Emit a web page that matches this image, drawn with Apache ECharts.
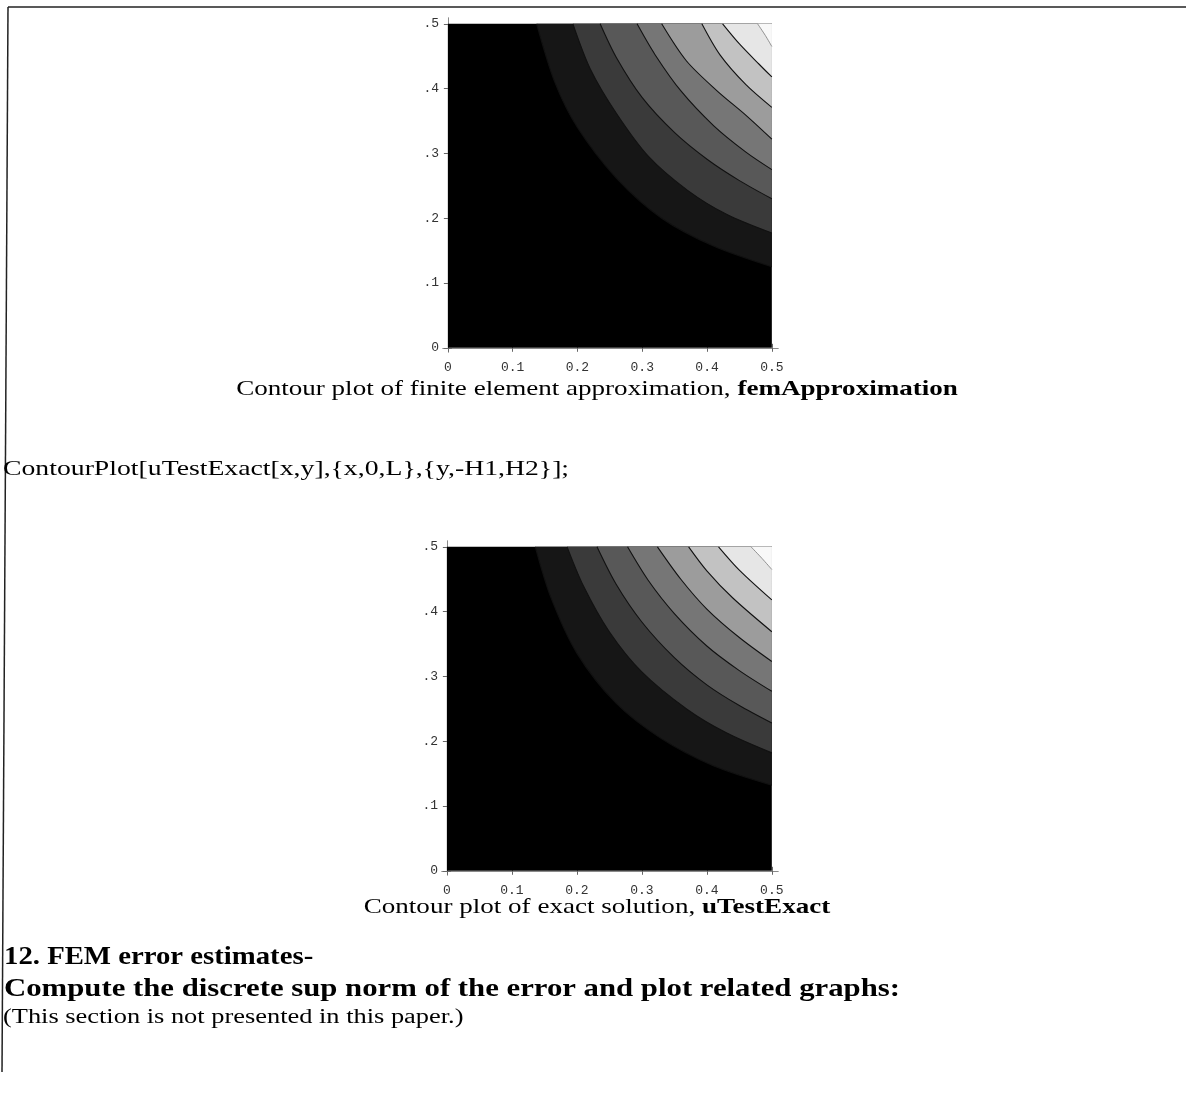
<!DOCTYPE html>
<html>
<head>
<meta charset="utf-8">
<script src="https://cdn.jsdelivr.net/npm/echarts@6/dist/echarts.min.js"></script>
<style>
html, body { margin: 0; padding: 0; background: #fff; }
#chart { width: 1186px; height: 1101px; }
</style>
</head>
<body>
<div id="chart"></div>
<script>
const xTicks = [0, 0.1, 0.2, 0.3, 0.4, 0.5];
const yTicks = [0, 0.1, 0.2, 0.3, 0.4, 0.5];
const domain = [0, 0.5];
// Mathematica pads the plot range a little past the domain
const xRange = [-0.0075, 0.5095];
const yRange = [-0.0065, 0.509];

// grey shade of the region above each contour, darkest first
const shades = ['#161616', '#3a3a3a', '#585858', '#767676', '#9c9c9c', '#c2c2c2', '#e6e6e6', '#f8f8f8'];

// contour lines, each from the top edge to the right edge
const femContours = [
  [[0.137, 0.5], [0.165, 0.41], [0.2, 0.34], [0.26, 0.262], [0.33, 0.2], [0.41, 0.157], [0.5, 0.125]],
  [[0.193, 0.5], [0.22, 0.43], [0.26, 0.362], [0.31, 0.295], [0.37, 0.243], [0.43, 0.206], [0.5, 0.177]],
  [[0.235, 0.5], [0.26, 0.448], [0.3, 0.386], [0.35, 0.332], [0.4, 0.291], [0.45, 0.258], [0.5, 0.23]],
  [[0.292, 0.5], [0.32, 0.452], [0.36, 0.396], [0.41, 0.343], [0.46, 0.302], [0.5, 0.275]],
  [[0.33, 0.5], [0.368, 0.443], [0.415, 0.397], [0.461, 0.358], [0.5, 0.322]],
  [[0.392, 0.5], [0.42, 0.452], [0.46, 0.406], [0.5, 0.371]],
  [[0.424, 0.5], [0.45, 0.469], [0.48, 0.438], [0.5, 0.418]],
  [[0.478, 0.5], [0.49, 0.482], [0.5, 0.465]]
];

const exactContours = [
  [[0.136, 0.5], [0.16, 0.422], [0.2, 0.336], [0.26, 0.259], [0.33, 0.204], [0.41, 0.162], [0.5, 0.132]],
  [[0.185, 0.5], [0.21, 0.44], [0.25, 0.369], [0.3, 0.307], [0.37, 0.249], [0.43, 0.213], [0.5, 0.182]],
  [[0.231, 0.5], [0.26, 0.443], [0.3, 0.384], [0.35, 0.329], [0.4, 0.287], [0.45, 0.255], [0.5, 0.228]],
  [[0.278, 0.5], [0.31, 0.448], [0.35, 0.397], [0.4, 0.347], [0.45, 0.309], [0.5, 0.277]],
  [[0.324, 0.5], [0.36, 0.45], [0.4, 0.404], [0.45, 0.36], [0.5, 0.323]],
  [[0.372, 0.5], [0.4, 0.463], [0.44, 0.421], [0.5, 0.369]],
  [[0.418, 0.5], [0.45, 0.464], [0.5, 0.418]],
  [[0.468, 0.5], [0.485, 0.482], [0.5, 0.465]]
];

const serif = '"Liberation Serif", "Times New Roman", serif';
const mono = '"Liberation Mono", "Courier New", monospace';

function contourSeries(contours, xi, yi) {
  const list = [{
    type: 'line', xAxisIndex: xi, yAxisIndex: yi, silent: true,
    data: [[domain[0], domain[0]], [domain[1], domain[0]]],
    symbol: 'none', lineStyle: { opacity: 0 },
    areaStyle: { color: '#000', opacity: 1, origin: domain[1] }
  }];
  contours.forEach((pts, i) => {
    const last = i === contours.length - 1;
    list.push({
      type: 'line', xAxisIndex: xi, yAxisIndex: yi, silent: true,
      data: pts, symbol: 'none', smooth: 0.3,
      lineStyle: { color: last ? '#777' : '#111', width: last ? 0.8 : 1.1 },
      areaStyle: { color: shades[i], opacity: 1, origin: domain[1] }
    });
  });
  return list;
}

function xAxes(gi) {
  const base = {
    type: 'value', gridIndex: gi, min: xRange[0], max: xRange[1],
    splitLine: { show: false },
    axisLine: { show: true, lineStyle: { color: '#8a8a8a', width: 1 } },
    axisTick: { show: true, inside: true, length: 4, customValues: xTicks, lineStyle: { color: '#666' } }
  };
  return [
    Object.assign({}, base, {
      position: 'bottom',
      axisLabel: {
        customValues: xTicks, margin: 9, color: '#333', fontFamily: mono, fontSize: 13,
        formatter: v => v === 0 ? '0' : v.toFixed(1)
      }
    }),
    Object.assign({}, base, { position: 'top', axisLabel: { show: false } })
  ];
}

function yAxes(gi) {
  const base = {
    type: 'value', gridIndex: gi, min: yRange[0], max: yRange[1],
    splitLine: { show: false },
    axisLine: { show: true, lineStyle: { color: '#8a8a8a', width: 1 } },
    axisTick: { show: true, inside: true, length: 4, customValues: yTicks, lineStyle: { color: '#666' } }
  };
  return [
    Object.assign({}, base, {
      position: 'left',
      axisLabel: {
        customValues: yTicks, margin: 4, color: '#333', fontFamily: mono, fontSize: 13,
        formatter: v => v === 0 ? '0' : '.' + Math.round(v * 10)
      }
    }),
    Object.assign({}, base, { position: 'right', axisLabel: { show: false } })
  ];
}

// the scanned page is stretched sideways, so text gets a horizontal scale
function pageText(x, y, text, font, sx, align) {
  return {
    type: 'text', x: x, y: y, scaleX: sx,
    style: { text: text, font: font, fill: '#000', align: align || 'left', verticalAlign: 'middle' }
  };
}

function caption(x, y, plain, bold, sx) {
  return {
    type: 'text', x: x, y: y, scaleX: sx,
    style: {
      text: '{n|' + plain + '}{b|' + bold + '}',
      align: 'center', verticalAlign: 'middle',
      rich: {
        n: { font: '22px ' + serif, fill: '#000' },
        b: { font: 'bold 22px ' + serif, fill: '#000' }
      }
    }
  };
}

const chart = echarts.init(document.getElementById('chart'), null, { renderer: 'canvas' });

chart.setOption({
  animation: false,
  backgroundColor: '#fff',
  grid: [
    { left: 443, top: 18, width: 335, height: 334 },
    { left: 442, top: 541, width: 336, height: 334 }
  ],
  xAxis: [...xAxes(0), ...xAxes(1)],
  yAxis: [...yAxes(0), ...yAxes(1)],
  series: [...contourSeries(femContours, 0, 0), ...contourSeries(exactContours, 2, 2)],
  graphic: [
    { type: 'polyline', shape: { points: [[8, 7], [1186, 7]] }, style: { stroke: '#222', lineWidth: 1.5 } },
    { type: 'polyline', shape: { points: [[8, 7], [2, 1072]] }, style: { stroke: '#222', lineWidth: 1.5 } },
    caption(597, 389, 'Contour plot of finite element approximation, ', 'femApproximation', 1.23),
    pageText(3, 469, 'ContourPlot[uTestExact[x,y],{x,0,L},{y,-H1,H2}];', '22px ' + serif, 1.26),
    caption(597, 907, 'Contour plot of exact solution, ', 'uTestExact', 1.23),
    pageText(4, 958, '12. FEM error estimates-', 'bold 25px ' + serif, 1.15),
    pageText(4, 990, 'Compute the discrete sup norm of the error and plot related graphs:', 'bold 25px ' + serif, 1.23),
    pageText(3, 1018, '(This section is not presented in this paper.)', '20px ' + serif, 1.32)
  ]
});
</script>
</body>
</html>
